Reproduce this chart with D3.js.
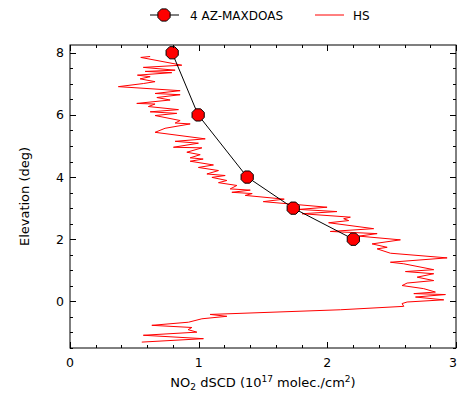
<!DOCTYPE html>
<html>
<head>
<meta charset="utf-8">
<script src="https://cdn.jsdelivr.net/npm/d3@7"></script>
<style>
  body { margin: 0; background: #fff; }
  text { font-family: "DejaVu Sans", sans-serif; fill: #000; }
</style>
</head>
<body>
<div id="chart"></div>
<script>
// 4 AZ-MAXDOAS retrieval (one value per elevation angle)
const maxdoasElevation = [8, 6, 4, 3, 2];
const maxdoasValues = [0.794, 0.996, 1.377, 1.735, 2.202];

// HS trace (NO2 dSCD vs elevation)
const hsValues = [
  0.623, 0.550, 0.869, 0.570, 0.817, 0.584, 0.791, 0.524, 0.623, 0.545,
  0.661, 0.570, 0.376, 0.856, 0.661, 0.856, 0.675, 0.778, 0.519, 0.661,
  0.609, 0.843, 0.623, 0.830, 0.661, 0.856, 0.817, 0.934, 0.739, 0.661,
  1.051, 0.817, 0.998, 0.804, 1.025, 0.908, 1.012, 0.934, 1.035, 0.934,
  1.115, 0.998, 1.154, 1.064, 1.206, 1.103, 1.219, 1.154, 1.297, 1.245,
  1.401, 1.258, 1.416, 1.362, 1.665, 1.502, 1.998, 1.777, 2.075, 1.803,
  2.179, 2.127, 2.166, 2.010, 2.360, 2.023, 2.387, 2.244, 2.568, 2.348,
  2.465, 2.387, 2.490, 2.931, 2.490, 2.594, 2.827, 2.607, 2.827, 2.698,
  2.827, 2.620, 2.581, 2.749, 2.840, 2.672, 2.918, 2.685, 2.905, 2.620,
  2.581, 2.594, 2.101, 1.089, 1.219, 1.025, 0.921, 0.636, 0.947, 0.918,
  0.986, 0.570, 1.037, 0.558
];
const hsElevation = [
  7.88, 7.85, 7.60, 7.53, 7.44, 7.40, 7.36, 7.28, 7.23, 7.16,
  7.07, 7.01, 6.91, 6.78, 6.69, 6.65, 6.56, 6.48, 6.37, 6.35,
  6.27, 6.17, 6.10, 6.05, 5.98, 5.82, 5.74, 5.71, 5.57, 5.44,
  5.23, 5.15, 5.09, 4.96, 4.94, 4.80, 4.72, 4.62, 4.58, 4.51,
  4.39, 4.31, 4.21, 4.10, 4.05, 3.99, 3.89, 3.82, 3.73, 3.62,
  3.58, 3.51, 3.47, 3.41, 3.29, 3.21, 3.03, 2.96, 2.89, 2.82,
  2.71, 2.66, 2.60, 2.53, 2.34, 2.25, 2.18, 2.10, 1.98, 1.85,
  1.74, 1.69, 1.55, 1.40, 1.26, 1.21, 1.02, 0.96, 0.89, 0.78,
  0.67, 0.59, 0.51, 0.41, 0.30, 0.25, 0.22, 0.14, 0.05, -0.02,
  -0.07, -0.16, -0.27, -0.42, -0.48, -0.56, -0.67, -0.77, -0.84, -0.91,
  -0.99, -1.09, -1.20, -1.31
];

const xTicks = [0, 1, 2, 3];
const yTicks = [0, 2, 4, 6, 8];
const legendLabels = ["4 AZ-MAXDOAS", "HS"];

const width = 458, height = 395;
const margin = { top: 45, right: 2, bottom: 47, left: 70 };

const svg = d3.select("#chart").append("svg")
  .attr("width", width)
  .attr("height", height);

const x = d3.scaleLinear()
  .domain([0, 3])
  .range([margin.left, width - margin.right]);

const y = d3.scaleLinear()
  .domain([-1.5, 8.25])
  .range([height - margin.bottom, margin.top]);

svg.append("defs").append("clipPath").attr("id", "plot-clip")
  .append("rect")
  .attr("x", x(0)).attr("y", y(8.25))
  .attr("width", x(3) - x(0)).attr("height", y(-1.5) - y(8.25));

// octagon marker, matplotlib-ish
function octagon(r) {
  const pts = d3.range(8).map(i => {
    const a = Math.PI / 8 + i * Math.PI / 4;
    return [r * Math.cos(a), r * Math.sin(a)];
  });
  return "M" + pts.map(p => p.join(",")).join("L") + "Z";
}

const plot = svg.append("g").attr("clip-path", "url(#plot-clip)");

// HS line
const hs = hsValues.map((v, i) => [v, hsElevation[i]]);
plot.append("path")
  .datum(hs)
  .attr("fill", "none")
  .attr("stroke", "#ff0000")
  .attr("stroke-width", 1)
  .attr("stroke-linejoin", "round")
  .attr("d", d3.line().x(d => x(d[0])).y(d => y(d[1])));

// MAX-DOAS line + markers
const md = maxdoasValues.map((v, i) => [v, maxdoasElevation[i]]);
plot.append("path")
  .datum(md)
  .attr("fill", "none")
  .attr("stroke", "#000")
  .attr("stroke-width", 1)
  .attr("d", d3.line().x(d => x(d[0])).y(d => y(d[1])));

plot.selectAll(".marker")
  .data(md)
  .join("path")
  .attr("class", "marker")
  .attr("transform", d => `translate(${x(d[0])},${y(d[1])})`)
  .attr("d", octagon(6.6))
  .attr("fill", "#ff0000")
  .attr("stroke", "#000")
  .attr("stroke-width", 1);

// ticks, inward on all four sides
const frame = svg.append("g").attr("stroke", "#000").attr("stroke-width", 1);
const xMinor = d3.range(0, 3.0001, 0.2);
const yMinor = d3.range(-1.5, 8.2501, 0.5);
const x0 = x(0), x1 = x(3), yTop = y(8.25), yBot = y(-1.5);

xMinor.forEach(v => {
  const major = xTicks.some(t => Math.abs(t - v) < 1e-6);
  const len = major ? 6 : 3;
  const px = Math.round(x(v)) + 0.5;
  frame.append("line").attr("x1", px).attr("x2", px).attr("y1", yBot).attr("y2", yBot - len);
  frame.append("line").attr("x1", px).attr("x2", px).attr("y1", yTop).attr("y2", yTop + len);
});
yMinor.forEach(v => {
  const major = yTicks.some(t => Math.abs(t - v) < 1e-6);
  const len = major ? 6 : 3;
  const py = Math.round(y(v)) + 0.5;
  frame.append("line").attr("y1", py).attr("y2", py).attr("x1", x0).attr("x2", x0 + len);
  frame.append("line").attr("y1", py).attr("y2", py).attr("x1", x1).attr("x2", x1 - len);
});

frame.append("rect")
  .attr("x", x0).attr("y", yTop)
  .attr("width", x1 - x0).attr("height", yBot - yTop)
  .attr("fill", "none");

// tick labels (last one nudged in so it stays on the page)
svg.append("g").selectAll("text")
  .data(xTicks)
  .join("text")
  .attr("x", d => Math.min(x(d), width - 5))
  .attr("y", yBot + 19)
  .attr("text-anchor", "middle")
  .attr("font-size", 12.5)
  .text(d => d);

svg.append("g").selectAll("text")
  .data(yTicks)
  .join("text")
  .attr("x", x0 - 6)
  .attr("y", d => y(d) + 4.5)
  .attr("text-anchor", "end")
  .attr("font-size", 12.5)
  .text(d => d);

// axis titles
const xt = svg.append("text")
  .attr("x", (x0 + x1) / 2)
  .attr("y", height - 8)
  .attr("text-anchor", "middle")
  .attr("font-size", 13);
xt.append("tspan").text("NO");
xt.append("tspan").attr("font-size", 9).attr("dy", 3).text("2");
xt.append("tspan").attr("dy", -3).text(" dSCD (10");
xt.append("tspan").attr("font-size", 9).attr("dy", -5).text("17");
xt.append("tspan").attr("dy", 5).text(" molec./cm");
xt.append("tspan").attr("font-size", 9).attr("dy", -5).text("2");
xt.append("tspan").attr("dy", 5).text(")");

svg.append("text")
  .attr("transform", `translate(29,${(yTop + yBot) / 2}) rotate(-90)`)
  .attr("text-anchor", "middle")
  .attr("font-size", 13)
  .text("Elevation (deg)");

// legend above the plot
const lg = svg.append("g").attr("transform", "translate(0,15)");
lg.append("line").attr("x1", 150).attr("x2", 179).attr("y1", 0).attr("y2", 0)
  .attr("stroke", "#000").attr("stroke-width", 1);
lg.append("path").attr("transform", "translate(164,0)").attr("d", octagon(6.6))
  .attr("fill", "#ff0000").attr("stroke", "#000");
lg.append("text").attr("x", 190).attr("y", 4.5).attr("font-size", 12).text(legendLabels[0]);
lg.append("line").attr("x1", 315).attr("x2", 344).attr("y1", 0).attr("y2", 0)
  .attr("stroke", "#ff0000").attr("stroke-width", 1);
lg.append("text").attr("x", 353).attr("y", 4.5).attr("font-size", 12).text(legendLabels[1]);
</script>
</body>
</html>
